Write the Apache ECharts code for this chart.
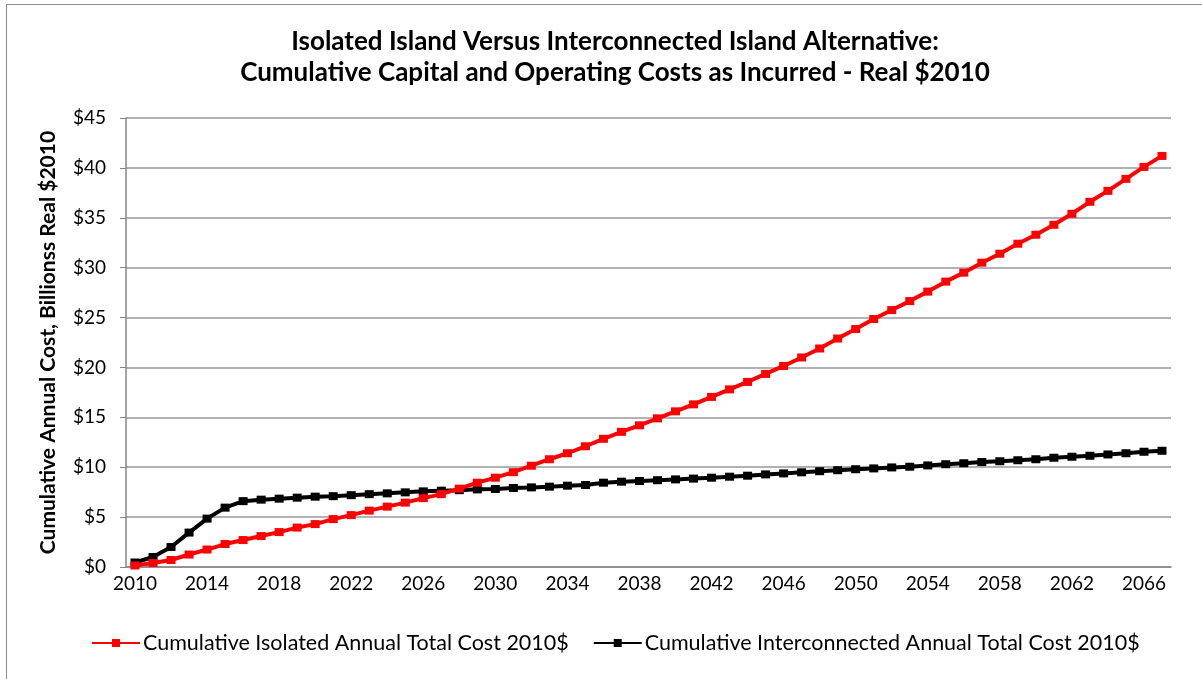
<!DOCTYPE html>
<html>
<head>
<meta charset="utf-8">
<script src="https://cdn.jsdelivr.net/npm/echarts@6/dist/echarts.min.js"></script>
<style>
  html, body { margin: 0; padding: 0; background: #fff; }
  .frame { position: absolute; left: 6px; top: 4px; width: 1220px; height: 700px; border: 1.5px solid #8c8c8c; }
  #chart { position: absolute; left: 0; top: 0; width: 1202px; height: 679px; }
</style>
</head>
<body>
<div class="frame"></div>
<div id="chart"></div>
<script>
// years on the category axis
var years = [];
for (var y = 2010; y <= 2067; y++) years.push(String(y));

// cumulative cost, billions real $2010
var isolated = [
  0.15, 0.4, 0.7, 1.25, 1.75, 2.3, 2.7, 3.1, 3.5, 3.95,
  4.3, 4.8, 5.2, 5.65, 6.05, 6.45, 6.9, 7.3, 7.85, 8.45,
  8.95, 9.5, 10.15, 10.8, 11.4, 12.1, 12.85, 13.55, 14.2, 14.9,
  15.6, 16.3, 17.05, 17.8, 18.55, 19.35, 20.15, 21.0, 21.9, 22.9,
  23.85, 24.85, 25.75, 26.65, 27.6, 28.6, 29.5, 30.5, 31.4, 32.4,
  33.3, 34.3, 35.4, 36.6, 37.7, 38.9, 40.1, 41.2
];
var interconnected = [
  0.45, 1.0, 2.0, 3.45, 4.85, 5.95, 6.6, 6.75, 6.85, 6.95,
  7.05, 7.1, 7.2, 7.3, 7.38, 7.48, 7.58, 7.65, 7.7, 7.78,
  7.82, 7.92, 7.98, 8.05, 8.15, 8.22, 8.45, 8.55, 8.62, 8.7,
  8.78, 8.86, 8.95, 9.05, 9.15, 9.28, 9.38, 9.49, 9.6, 9.7,
  9.8, 9.88, 9.98, 10.05, 10.18, 10.3, 10.4, 10.52, 10.6, 10.7,
  10.8, 10.95, 11.05, 11.15, 11.28, 11.4, 11.55, 11.65
];

var seriesNames = [
  'Cumulative Isolated Annual Total Cost 2010$',
  'Cumulative Interconnected Annual Total Cost 2010$'
];

var chart = echarts.init(document.getElementById('chart'));
var font = 'Lato, "Open Sans", sans-serif';
var axisGray = '#868686';

var option = {
  animation: false,
  textStyle: { fontFamily: font },
  title: {
    text: 'Isolated Island Versus Interconnected Island Alternative:\nCumulative Capital and Operating Costs as Incurred - Real $2010',
    left: 610,
    textAlign: 'center',
    top: 21,
    textStyle: { fontFamily: font, fontSize: 26, fontWeight: 'bold', color: '#000', lineHeight: 31 }
  },
  legend: {
    top: 627,
    left: 86,
    itemWidth: 48,
    itemHeight: 10,
    itemGap: 24,
    textStyle: { fontFamily: font, fontSize: 21.5, color: '#000', padding: [0, 0, 0, -2] },
    data: seriesNames
  },
  grid: { left: 126, right: 31, top: 118, bottom: 112 },
  xAxis: {
    type: 'category',
    data: years,
    boundaryGap: true,
    axisLine: { lineStyle: { color: axisGray, width: 1.5 } },
    axisTick: { interval: 0, length: 6, lineStyle: { color: axisGray } },
    axisLabel: { interval: 3, margin: 7, fontSize: 19, color: '#000', fontFamily: font }
  },
  yAxis: {
    type: 'value',
    min: 0,
    max: 45,
    interval: 5,
    name: 'Cumulative Annual Cost, Billionss Real $2010',
    nameLocation: 'middle',
    nameGap: 67,
    nameTextStyle: { fontFamily: font, fontSize: 21, fontWeight: 'bold', color: '#000' },
    axisLine: { show: true, lineStyle: { color: axisGray, width: 1.5 } },
    axisTick: { show: true, length: 6, lineStyle: { color: axisGray } },
    axisLabel: { margin: 20, fontSize: 19, color: '#000', fontFamily: font, formatter: function (v) { return '$' + v; } },
    splitLine: { lineStyle: { color: '#999', width: 1.5 } }
  },
  series: [
    {
      name: seriesNames[0],
      type: 'line',
      data: isolated,
      symbol: 'rect',
      symbolSize: [9, 8],
      lineStyle: { color: '#ff0000', width: 4 },
      itemStyle: { color: '#ff0000' },
      z: 3
    },
    {
      name: seriesNames[1],
      type: 'line',
      data: interconnected,
      symbol: 'rect',
      symbolSize: [9, 8],
      lineStyle: { color: '#000000', width: 4 },
      itemStyle: { color: '#000000' },
      z: 2
    }
  ]
};
chart.setOption(option);
</script>
</body>
</html>
